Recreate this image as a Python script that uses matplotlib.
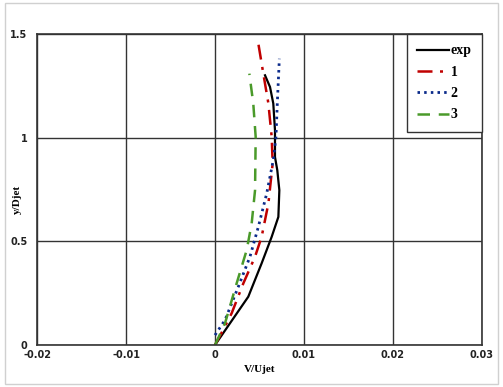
import matplotlib
matplotlib.use("Agg")
import matplotlib.pyplot as plt
from matplotlib.patches import Rectangle

exp_x = [0.0, 0.00374, 0.00524, 0.00637, 0.00712, 0.00723, 0.0070, 0.00674, 0.00674, 0.00655, 0.00618, 0.00562]
exp_y = [0.0, 0.233, 0.394, 0.522, 0.618, 0.747, 0.843, 0.907, 1.036, 1.165, 1.245, 1.301]

c1_x = [0.0, 0.0009, 0.00187, 0.00318, 0.0045, 0.00524, 0.0060, 0.00648, 0.00637, 0.0060, 0.00543, 0.00487]
c1_y = [0.0, 0.072, 0.153, 0.297, 0.426, 0.522, 0.683, 0.876, 1.004, 1.165, 1.309, 1.454]

c2_x = [0.0, 0.00112, 0.00262, 0.00393, 0.00487, 0.00581, 0.00655, 0.00685, 0.0070, 0.00723]
c2_y = [0.048, 0.12, 0.281, 0.426, 0.57, 0.731, 0.892, 1.004, 1.165, 1.381]

c3_x = [0.0, 0.00112, 0.00243, 0.00356, 0.00412, 0.0045, 0.00457, 0.0043, 0.00386]
c3_y = [0.0, 0.104, 0.297, 0.458, 0.586, 0.747, 1.004, 1.165, 1.309]

x_ticks = [-0.02, -0.01, 0, 0.01, 0.02, 0.03]
y_ticks = [0, 0.5, 1, 1.5]

fig = plt.figure(figsize=(5.03, 3.87), dpi=100)
ax = fig.add_axes([0.0736, 0.1085, 0.8846, 0.8035])

# light chart-area border
fig.patches.append(Rectangle((0.01, 0.008), 0.98, 0.985, transform=fig.transFigure,
                             fill=False, edgecolor="#d0d0d0", linewidth=1))

ax.plot(exp_x, exp_y, color="black", lw=1.6, label="exp")
ax.plot(c1_x, c1_y, color="#c00000", lw=1.8, dashes=[6, 3, 1.2, 3], label="1")
ax.plot(c2_x, c2_y, color="#0a2a8a", lw=2.0, ls=(0, (0.9, 1.5)), label="2")
ax.plot(c3_x, c3_y, color="#4a9a2a", lw=1.8, dashes=[5, 3.5], label="3")

ax.set_xlim(-0.02, 0.03)
ax.set_ylim(0, 1.5)
ax.set_xticks(x_ticks)
ax.set_xticklabels(["-0.02", "-0.01", "0", "0.01", "0.02", "0.03"])
ax.set_yticks(y_ticks)
ax.set_yticklabels(["0", "0.5", "1", "1.5"])
ax.tick_params(axis="x", length=0, labelsize=7, pad=3.5)
ax.tick_params(axis="y", length=0, labelsize=7, pad=7)
for lab in ax.get_xticklabels() + ax.get_yticklabels():
    lab.set_fontweight("bold")
    lab.set_color("#222222")

ax.grid(True, color="#333333", lw=1)
ax.set_axisbelow(True)
for s in ax.spines.values():
    s.set_color("#333333")
    s.set_linewidth(1.2)

ax.set_xlabel("V/Ujet", family="Liberation Serif", fontweight="bold", fontsize=8, labelpad=4)
# y title sits between the 0.5 and 1 ticks, close to the tick labels
fig.text(17 / 503, 1 - 199 / 387, "y/Djet", rotation=90, ha="center", va="center",
         family="Liberation Serif", fontweight="bold", fontsize=8)

leg = ax.legend(loc="upper right", prop={"family": "Liberation Serif", "weight": "bold", "size": 10},
                frameon=True, fancybox=False, edgecolor="#333333", framealpha=1,
                handlelength=2.3, handletextpad=0.1, borderpad=0.75, labelspacing=0.6,
                borderaxespad=0.0)
leg.get_frame().set_linewidth(1)

fig.savefig("out.png", dpi=100)
